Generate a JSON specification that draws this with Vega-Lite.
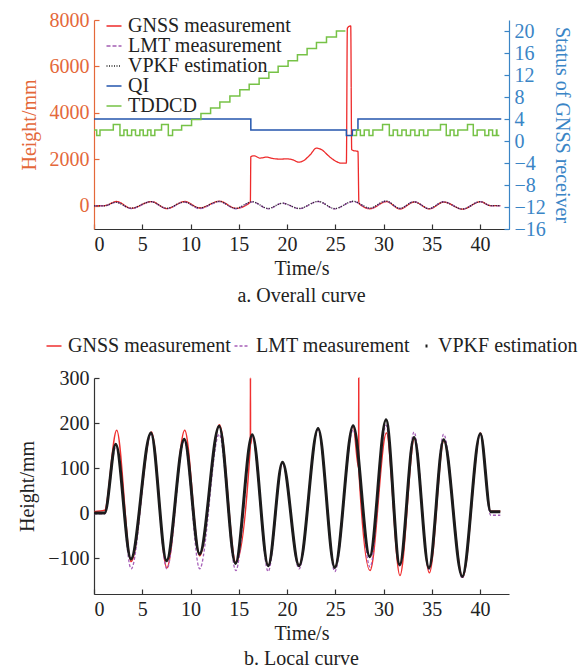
{
  "$schema": "https://vega.github.io/schema/vega-lite/v6.json",
  "padding": {"left": 17, "top": 10, "right": 2, "bottom": 3},
  "config": {
    "font": "Liberation Serif",
    "view": {"stroke": null},
    "axis": {"grid": false, "labelFont": "Liberation Serif", "titleFont": "Liberation Serif", "labelFontSize": 20, "titleFontSize": 20, "titleFontWeight": "normal", "tickSize": -5, "labelPadding": 10, "domainWidth": 1.2, "tickWidth": 1.2, "labelColor": "#222", "titleColor": "#222", "domainColor": "#333", "tickColor": "#333"},
    "legend": {"labelFont": "Liberation Serif", "labelFontSize": 20, "labelColor": "#222", "labelLimit": 400, "symbolType": "stroke", "symbolSize": 225, "symbolStrokeWidth": 1.5, "rowPadding": 0, "labelOffset": 4},
    "title": {"font": "Liberation Serif", "fontSize": 20, "fontWeight": "normal", "color": "#222"}
  },
  "datasets": {
    "wave": [
      {"s": "GNSS measurement", "t": 0, "v": 3}, {"s": "GNSS measurement", "t": 1.1, "v": 6}, {"s": "GNSS measurement", "t": 2.35, "v": 184}, {"s": "GNSS measurement", "t": 3.85, "v": -108}, {"s": "GNSS measurement", "t": 5.95, "v": 180}, {"s": "GNSS measurement", "t": 7.55, "v": -122}, {"s": "GNSS measurement", "t": 9.4, "v": 184}, {"s": "GNSS measurement", "t": 10.95, "v": -95}, {"s": "GNSS measurement", "t": 13.0, "v": 196}, {"s": "GNSS measurement", "t": 14.7, "v": -110}, {"s": "GNSS measurement", "t": 16.2, "v": 150}, {"s": "GNSS measurement", "t": 16.21, "v": 300}, {"s": "GNSS measurement", "t": 16.22, "v": 152}, {"s": "GNSS measurement", "t": 16.4, "v": 172}, {"s": "GNSS measurement", "t": 18.05, "v": -117}, {"s": "GNSS measurement", "t": 19.53, "v": 113}, {"s": "GNSS measurement", "t": 21.25, "v": -117}, {"s": "GNSS measurement", "t": 23.22, "v": 188}, {"s": "GNSS measurement", "t": 24.95, "v": -121}, {"s": "GNSS measurement", "t": 26.85, "v": 194}, {"s": "GNSS measurement", "t": 27.42, "v": 100}, {"s": "GNSS measurement", "t": 27.43, "v": 300}, {"s": "GNSS measurement", "t": 27.44, "v": 98}, {"s": "GNSS measurement", "t": 28.6, "v": -128}, {"s": "GNSS measurement", "t": 30.3, "v": 178}, {"s": "GNSS measurement", "t": 31.7, "v": -139}, {"s": "GNSS measurement", "t": 33.2, "v": 165}, {"s": "GNSS measurement", "t": 34.75, "v": -133}, {"s": "GNSS measurement", "t": 36.25, "v": 160}, {"s": "GNSS measurement", "t": 38.2, "v": -143}, {"s": "GNSS measurement", "t": 40.05, "v": 178}, {"s": "GNSS measurement", "t": 41.1, "v": 4}, {"s": "GNSS measurement", "t": 42.1, "v": 4},
      {"s": "LMT measurement", "t": 0, "v": -2}, {"s": "LMT measurement", "t": 1.1, "v": -2}, {"s": "LMT measurement", "t": 2.3, "v": 150}, {"s": "LMT measurement", "t": 3.85, "v": -124}, {"s": "LMT measurement", "t": 5.9, "v": 175}, {"s": "LMT measurement", "t": 7.55, "v": -124}, {"s": "LMT measurement", "t": 9.35, "v": 160}, {"s": "LMT measurement", "t": 10.95, "v": -124}, {"s": "LMT measurement", "t": 12.97, "v": 175}, {"s": "LMT measurement", "t": 14.7, "v": -128}, {"s": "LMT measurement", "t": 16.4, "v": 170}, {"s": "LMT measurement", "t": 18.05, "v": -130}, {"s": "LMT measurement", "t": 19.53, "v": 110}, {"s": "LMT measurement", "t": 21.25, "v": -124}, {"s": "LMT measurement", "t": 23.22, "v": 185}, {"s": "LMT measurement", "t": 24.95, "v": -130}, {"s": "LMT measurement", "t": 26.85, "v": 185}, {"s": "LMT measurement", "t": 28.6, "v": -120}, {"s": "LMT measurement", "t": 30.26, "v": 195}, {"s": "LMT measurement", "t": 31.7, "v": -118}, {"s": "LMT measurement", "t": 33.16, "v": 180}, {"s": "LMT measurement", "t": 34.71, "v": -125}, {"s": "LMT measurement", "t": 36.23, "v": 175}, {"s": "LMT measurement", "t": 38.16, "v": -145}, {"s": "LMT measurement", "t": 40.03, "v": 176}, {"s": "LMT measurement", "t": 41.1, "v": -5}, {"s": "LMT measurement", "t": 42.1, "v": -5},
      {"s": "VPKF estimation", "t": 0, "v": 0}, {"s": "VPKF estimation", "t": 1.1, "v": 0}, {"s": "VPKF estimation", "t": 2.25, "v": 153}, {"s": "VPKF estimation", "t": 3.83, "v": -102}, {"s": "VPKF estimation", "t": 5.9, "v": 178}, {"s": "VPKF estimation", "t": 7.52, "v": -106}, {"s": "VPKF estimation", "t": 9.35, "v": 164}, {"s": "VPKF estimation", "t": 10.94, "v": -91}, {"s": "VPKF estimation", "t": 12.97, "v": 193}, {"s": "VPKF estimation", "t": 14.66, "v": -112}, {"s": "VPKF estimation", "t": 16.4, "v": 174}, {"s": "VPKF estimation", "t": 18.05, "v": -117}, {"s": "VPKF estimation", "t": 19.53, "v": 113}, {"s": "VPKF estimation", "t": 21.25, "v": -117}, {"s": "VPKF estimation", "t": 23.22, "v": 188}, {"s": "VPKF estimation", "t": 24.95, "v": -121}, {"s": "VPKF estimation", "t": 26.85, "v": 194}, {"s": "VPKF estimation", "t": 28.57, "v": -97}, {"s": "VPKF estimation", "t": 30.26, "v": 207}, {"s": "VPKF estimation", "t": 31.68, "v": -115}, {"s": "VPKF estimation", "t": 33.16, "v": 168}, {"s": "VPKF estimation", "t": 34.71, "v": -122}, {"s": "VPKF estimation", "t": 36.23, "v": 163}, {"s": "VPKF estimation", "t": 38.16, "v": -141}, {"s": "VPKF estimation", "t": 40.03, "v": 176}, {"s": "VPKF estimation", "t": 41.1, "v": 3}, {"s": "VPKF estimation", "t": 42.1, "v": 3}
    ],
    "gnssTop": [
      {"s": "GNSS measurement", "t": 0, "v": 3}, {"s": "GNSS measurement", "t": 1.1, "v": 6}, {"s": "GNSS measurement", "t": 2.35, "v": 184}, {"s": "GNSS measurement", "t": 3.85, "v": -108}, {"s": "GNSS measurement", "t": 5.95, "v": 180}, {"s": "GNSS measurement", "t": 7.55, "v": -122}, {"s": "GNSS measurement", "t": 9.4, "v": 184}, {"s": "GNSS measurement", "t": 10.95, "v": -95}, {"s": "GNSS measurement", "t": 13.0, "v": 196}, {"s": "GNSS measurement", "t": 14.7, "v": -110}, {"s": "GNSS measurement", "t": 16.2, "v": 150}, {"s": "GNSS measurement", "t": 16.25, "v": 2120}, {"s": "GNSS measurement", "t": 16.6, "v": 2150}, {"s": "GNSS measurement", "t": 17.2, "v": 2054}, {"s": "GNSS measurement", "t": 17.9, "v": 2096}, {"s": "GNSS measurement", "t": 18.5, "v": 2040}, {"s": "GNSS measurement", "t": 19.25, "v": 2010}, {"s": "GNSS measurement", "t": 20.0, "v": 2020}, {"s": "GNSS measurement", "t": 20.6, "v": 1980}, {"s": "GNSS measurement", "t": 21.2, "v": 1880}, {"s": "GNSS measurement", "t": 21.7, "v": 1940}, {"s": "GNSS measurement", "t": 22.4, "v": 2197}, {"s": "GNSS measurement", "t": 23.05, "v": 2485}, {"s": "GNSS measurement", "t": 23.6, "v": 2412}, {"s": "GNSS measurement", "t": 24.3, "v": 2150}, {"s": "GNSS measurement", "t": 25.1, "v": 1908}, {"s": "GNSS measurement", "t": 25.6, "v": 1838}, {"s": "GNSS measurement", "t": 26.15, "v": 1838}, {"s": "GNSS measurement", "t": 26.25, "v": 7650}, {"s": "GNSS measurement", "t": 26.6, "v": 7750}, {"s": "GNSS measurement", "t": 26.7, "v": 2420}, {"s": "GNSS measurement", "t": 26.85, "v": 2380}, {"s": "GNSS measurement", "t": 27.35, "v": 2340}, {"s": "GNSS measurement", "t": 27.45, "v": 98}, {"s": "GNSS measurement", "t": 28.6, "v": -128}, {"s": "GNSS measurement", "t": 30.3, "v": 178}, {"s": "GNSS measurement", "t": 31.7, "v": -139}, {"s": "GNSS measurement", "t": 33.2, "v": 165}, {"s": "GNSS measurement", "t": 34.75, "v": -133}, {"s": "GNSS measurement", "t": 36.25, "v": 160}, {"s": "GNSS measurement", "t": 38.2, "v": -143}, {"s": "GNSS measurement", "t": 40.05, "v": 178}, {"s": "GNSS measurement", "t": 41.1, "v": 4}, {"s": "GNSS measurement", "t": 42.1, "v": 4}
    ],
    "status": [
      {"s": "QI", "seg": "q", "t": 0, "v": 4}, {"s": "QI", "seg": "q", "t": 16.25, "v": 2}, {"s": "QI", "seg": "q", "t": 26.15, "v": 1}, {"s": "QI", "seg": "q", "t": 26.77, "v": 2}, {"s": "QI", "seg": "q", "t": 27.35, "v": 4}, {"s": "QI", "seg": "q", "t": 42.2, "v": 4},
      {"s": "TDDCD", "seg": "a", "t": 0, "v": 2}, {"s": "TDDCD", "seg": "a", "t": 0.28, "v": 1}, {"s": "TDDCD", "seg": "a", "t": 0.62, "v": 2}, {"s": "TDDCD", "seg": "a", "t": 2.0, "v": 3}, {"s": "TDDCD", "seg": "a", "t": 2.69, "v": 1}, {"s": "TDDCD", "seg": "a", "t": 3.1, "v": 2}, {"s": "TDDCD", "seg": "a", "t": 3.45, "v": 1}, {"s": "TDDCD", "seg": "a", "t": 3.9, "v": 2}, {"s": "TDDCD", "seg": "a", "t": 4.3, "v": 1}, {"s": "TDDCD", "seg": "a", "t": 4.75, "v": 2}, {"s": "TDDCD", "seg": "a", "t": 5.1, "v": 1}, {"s": "TDDCD", "seg": "a", "t": 5.55, "v": 2}, {"s": "TDDCD", "seg": "a", "t": 5.9, "v": 1}, {"s": "TDDCD", "seg": "a", "t": 6.3, "v": 2}, {"s": "TDDCD", "seg": "a", "t": 7.0, "v": 3}, {"s": "TDDCD", "seg": "a", "t": 7.7, "v": 1}, {"s": "TDDCD", "seg": "a", "t": 8.14, "v": 2}, {"s": "TDDCD", "seg": "a", "t": 9.08, "v": 2.8}, {"s": "TDDCD", "seg": "a", "t": 10.11, "v": 3.9}, {"s": "TDDCD", "seg": "a", "t": 11.08, "v": 5.0}, {"s": "TDDCD", "seg": "a", "t": 12.08, "v": 6.0}, {"s": "TDDCD", "seg": "a", "t": 13.04, "v": 7.1}, {"s": "TDDCD", "seg": "a", "t": 14.08, "v": 8.2}, {"s": "TDDCD", "seg": "a", "t": 15.11, "v": 9.3}, {"s": "TDDCD", "seg": "a", "t": 16.08, "v": 10.3}, {"s": "TDDCD", "seg": "a", "t": 17.11, "v": 11.4}, {"s": "TDDCD", "seg": "a", "t": 18.12, "v": 12.5}, {"s": "TDDCD", "seg": "a", "t": 19.08, "v": 13.6}, {"s": "TDDCD", "seg": "a", "t": 20.11, "v": 14.6}, {"s": "TDDCD", "seg": "a", "t": 21.08, "v": 15.7}, {"s": "TDDCD", "seg": "a", "t": 22.08, "v": 16.8}, {"s": "TDDCD", "seg": "a", "t": 23.05, "v": 17.9}, {"s": "TDDCD", "seg": "a", "t": 24.09, "v": 18.9}, {"s": "TDDCD", "seg": "a", "t": 25.12, "v": 20.0}, {"s": "TDDCD", "seg": "a", "t": 26.05, "v": 20.0},
      {"s": "TDDCD", "seg": "b", "t": 26.85, "v": 1}, {"s": "TDDCD", "seg": "b", "t": 27.2, "v": 2}, {"s": "TDDCD", "seg": "b", "t": 27.6, "v": 1}, {"s": "TDDCD", "seg": "b", "t": 28.0, "v": 2}, {"s": "TDDCD", "seg": "b", "t": 28.5, "v": 1}, {"s": "TDDCD", "seg": "b", "t": 28.9, "v": 2}, {"s": "TDDCD", "seg": "b", "t": 29.9, "v": 3}, {"s": "TDDCD", "seg": "b", "t": 30.6, "v": 1}, {"s": "TDDCD", "seg": "b", "t": 31.0, "v": 2}, {"s": "TDDCD", "seg": "b", "t": 31.45, "v": 1}, {"s": "TDDCD", "seg": "b", "t": 31.9, "v": 2}, {"s": "TDDCD", "seg": "b", "t": 32.35, "v": 1}, {"s": "TDDCD", "seg": "b", "t": 32.8, "v": 2}, {"s": "TDDCD", "seg": "b", "t": 33.25, "v": 1}, {"s": "TDDCD", "seg": "b", "t": 33.7, "v": 2}, {"s": "TDDCD", "seg": "b", "t": 34.15, "v": 1}, {"s": "TDDCD", "seg": "b", "t": 34.6, "v": 2}, {"s": "TDDCD", "seg": "b", "t": 35.9, "v": 3}, {"s": "TDDCD", "seg": "b", "t": 36.5, "v": 1}, {"s": "TDDCD", "seg": "b", "t": 36.9, "v": 2}, {"s": "TDDCD", "seg": "b", "t": 37.3, "v": 1}, {"s": "TDDCD", "seg": "b", "t": 37.7, "v": 2}, {"s": "TDDCD", "seg": "b", "t": 38.7, "v": 3}, {"s": "TDDCD", "seg": "b", "t": 39.3, "v": 1}, {"s": "TDDCD", "seg": "b", "t": 39.7, "v": 2}, {"s": "TDDCD", "seg": "b", "t": 40.5, "v": 1}, {"s": "TDDCD", "seg": "b", "t": 40.9, "v": 2}, {"s": "TDDCD", "seg": "b", "t": 41.3, "v": 1}, {"s": "TDDCD", "seg": "b", "t": 41.7, "v": 2}, {"s": "TDDCD", "seg": "b", "t": 41.75, "v": 1}, {"s": "TDDCD", "seg": "b", "t": 42.0, "v": 1}
    ]
  },
  "spacing": 30,
  "resolve": {"scale": {"color": "independent", "strokeDash": "independent"}, "legend": {"color": "independent", "strokeDash": "independent"}},
  "vconcat": [
    {
      "width": 415,
      "height": 209,
      "title": {"text": "a. Overall curve", "orient": "bottom", "offset": 8},
      "layer": [
        {
          "layer": [
            {
              "data": {"name": "gnssTop"},
              "mark": {"type": "line", "interpolate": "monotone", "strokeWidth": 1.3},
              "encoding": {
                "x": {"field": "t", "type": "quantitative", "scale": {"domain": [0, 43], "nice": false, "zero": false}, "axis": {"values": [0, 5, 10, 15, 20, 25, 30, 35, 40], "title": "Time/s"}},
                "y": {"field": "v", "type": "quantitative", "scale": {"domain": [-1000, 8000], "nice": false, "zero": false}, "axis": {"values": [0, 2000, 4000, 6000, 8000], "format": "d", "title": "Height/mm", "labelColor": "#e4683a", "titleColor": "#e4683a", "domainColor": "#e4683a", "tickColor": "#e4683a", "titlePadding": 10}},
                "color": {"field": "s", "type": "nominal", "scale": {"domain": ["GNSS measurement", "LMT measurement", "VPKF estimation", "QI", "TDDCD"], "range": ["#ee2b2b", "#a35db3", "#222222", "#2456ad", "#76c246"]}, "legend": {"orient": "none", "legendX": 10, "legendY": -4, "title": null}},
                "strokeDash": {"field": "s", "type": "nominal", "scale": {"domain": ["GNSS measurement", "LMT measurement", "VPKF estimation", "QI", "TDDCD"], "range": [[1, 0], [4, 2], [1, 1.5], [1, 0], [1, 0]]}, "legend": {"orient": "none", "legendX": 10, "legendY": -4, "title": null}}
              }
            },
            {
              "data": {"name": "wave"},
              "transform": [{"filter": "datum.s !== 'GNSS measurement'"}],
              "mark": {"type": "line", "interpolate": "monotone", "strokeWidth": 1.3},
              "encoding": {
                "x": {"field": "t", "type": "quantitative"},
                "y": {"field": "v", "type": "quantitative"},
                "color": {"field": "s", "type": "nominal"},
                "strokeDash": {"field": "s", "type": "nominal"}
              }
            }
          ]
        },
        {
          "data": {"name": "status"},
          "mark": {"type": "line", "interpolate": "step-after", "strokeWidth": 1.5},
          "encoding": {
            "x": {"field": "t", "type": "quantitative"},
            "y": {"field": "v", "type": "quantitative", "scale": {"domain": [-16, 22], "nice": false, "zero": false}, "axis": {"orient": "right", "values": [-16, -12, -8, -4, 0, 4, 8, 12, 16, 20], "title": "Status of GNSS receiver", "labelColor": "#3a85c6", "titleColor": "#3a85c6", "domainColor": "#3a85c6", "tickColor": "#3a85c6", "titlePadding": 6}},
            "color": {"field": "s", "type": "nominal"},
            "strokeDash": {"field": "s", "type": "nominal"},
            "detail": {"field": "seg"}
          }
        }
      ],
      "resolve": {"scale": {"y": "independent"}}
    },
    {
      "width": 415,
      "height": 216,
      "title": {"text": "b. Local curve", "orient": "bottom", "offset": 6},
      "data": {"name": "wave"},
      "encoding": {
        "x": {"field": "t", "type": "quantitative", "scale": {"domain": [0, 43], "nice": false, "zero": false}, "axis": {"values": [0, 5, 10, 15, 20, 25, 30, 35, 40], "title": "Time/s"}},
        "y": {"field": "v", "type": "quantitative", "scale": {"domain": [-180, 300], "nice": false, "zero": false}, "axis": {"values": [-100, 0, 100, 200, 300], "title": "Height/mm", "titlePadding": 10}},
        "color": {"field": "s", "type": "nominal", "scale": {"domain": ["GNSS measurement", "LMT measurement", "VPKF estimation"], "range": ["#f03030", "#a65fb8", "#1c1c1c"]}, "legend": {"orient": "none", "direction": "horizontal", "legendX": -50, "legendY": -42, "title": null, "columnPadding": 0, "encode": {"symbols": {"update": {"strokeDash": {"signal": "datum.value === 'VPKF estimation' ? [0, 9, 2, 10] : datum.value === 'LMT measurement' ? [3, 2] : [1, 0]"}, "strokeWidth": {"signal": "datum.value === 'VPKF estimation' ? 3 : 1.5"}}}}}}
      },
      "layer": [
        {"transform": [{"filter": "datum.s === 'GNSS measurement'"}], "mark": {"type": "line", "interpolate": "monotone", "strokeWidth": 1.5}},
        {"transform": [{"filter": "datum.s === 'LMT measurement'"}], "mark": {"type": "line", "interpolate": "monotone", "strokeWidth": 1.3, "strokeDash": [3, 2]}},
        {"transform": [{"filter": "datum.s === 'VPKF estimation'"}], "mark": {"type": "line", "interpolate": "monotone", "strokeWidth": 3}}
      ]
    }
  ]
}
